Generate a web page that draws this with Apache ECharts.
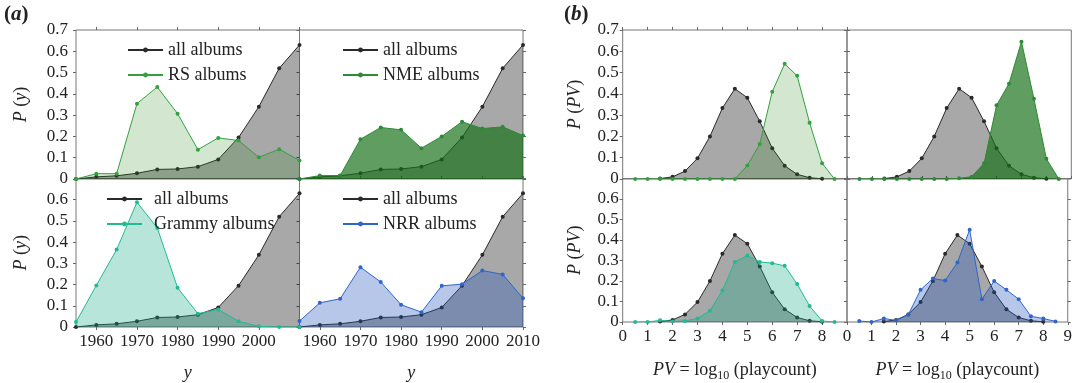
<!DOCTYPE html>
<html>
<head>
<meta charset="utf-8">
<script src="https://cdn.jsdelivr.net/npm/echarts@6/dist/echarts.min.js"></script>
<style>html,body{margin:0;padding:0;background:#fff;}#c{width:1075px;height:383px;}</style>
</head>
<body>
<div id="c"></div>
<script>
// ---- data ----
const years = [1955,1960,1965,1970,1975,1980,1985,1990,1995,2000,2005,2010];
const allAlbums = [0, 0.01, 0.015, 0.027, 0.045, 0.047, 0.058, 0.092, 0.195, 0.34, 0.52, 0.63];
const rsAlbums = [0, 0.025, 0.025, 0.354, 0.432, 0.307, 0.138, 0.193, 0.181, 0.102, 0.14, 0.087];
const nmeAlbums = [0, 0.016, 0.016, 0.187, 0.242, 0.231, 0.145, 0.2, 0.269, 0.237, 0.245, 0.204];
const grammyAlbums = [0.023, 0.196, 0.365, 0.588, 0.467, 0.185, 0.063, 0.083, 0.027, 0.003, 0, 0];
const nrrAlbums = [0.028, 0.114, 0.133, 0.282, 0.212, 0.105, 0.07, 0.194, 0.202, 0.266, 0.248, 0.135];

const pvBins = [0.5,1,1.5,2,2.5,3,3.5,4,4.5,5,5.5,6,6.5,7,7.5,8,8.5];
const allPV = [null, null, 0.002, 0.01, 0.037, 0.097, 0.2, 0.333, 0.424, 0.382, 0.271, 0.145, 0.062, 0.022, 0.006, 0.001, null];
const rsPV = [0,0,0,0,0,0,0,0,0,0.063,0.164,0.41,0.541,0.485,0.264,0.074,0];
const nmePV = [0,0,0,0,0,0,0,0,0.003,0.011,0.074,0.346,0.448,0.645,0.377,0.095,0];
const grammyPV = [0,0,0.008,0.003,0.005,0.017,0.055,0.154,0.293,0.324,0.293,0.287,0.274,0.185,0.078,0.005,0];
const nrrPV = [0.005,0,0.017,0.008,0.036,0.157,0.212,0.202,0.29,0.45,0.111,0.2,0.157,0.111,0.028,0.017,0.003];

const yearTicksLeft = [1960,1970,1980,1990,2000];
const yearTicksRight = [1960,1970,1980,1990,2000,2010];

// ---- styles ----
const FONT = 'Liberation Serif';
const styles = {
  all:    {line:'#2a2a2a', fill:'rgba(0,0,0,0.34)'},
  RS:     {line:'#35a040', fill:'rgba(30,130,20,0.2)'},
  NME:    {line:'#2e8a36', fill:'rgba(20,110,20,0.68)'},
  Grammy: {line:'#25b894', fill:'rgba(20,170,130,0.3)'},
  NRR:    {line:'#2f66c8', fill:'rgba(30,80,190,0.32)'}
};

const gx = {aL:76, aR:299.5, bL:622.7, bR:847};
const wA = 223.5, wB = 224.3;
const gy = {top:30, bot:178.5};
const h = 149;

const panels = [
  {kind:'a', left:gx.aL, top:gy.top, w:wA, col:0, row:0, other:'RS',  name:'RS albums',     oy:rsAlbums},
  {kind:'a', left:gx.aR, top:gy.top, w:wA, col:1, row:0, other:'NME', name:'NME albums',    oy:nmeAlbums},
  {kind:'a', left:gx.aL, top:gy.bot, w:wA, col:0, row:1, other:'Grammy', name:'Grammy albums', oy:grammyAlbums},
  {kind:'a', left:gx.aR, top:gy.bot, w:wA, col:1, row:1, other:'NRR', name:'NRR albums',    oy:nrrAlbums},
  {kind:'b', left:gx.bL, top:gy.top, w:wB, col:0, row:0, other:'RS',  name:'RS albums',     oy:rsPV},
  {kind:'b', left:gx.bR, top:gy.top, w:wB, col:1, row:0, other:'NME', name:'NME albums',    oy:nmePV},
  {kind:'b', left:gx.bL, top:gy.bot, w:wB, col:0, row:1, other:'Grammy', name:'Grammy albums', oy:grammyPV},
  {kind:'b', left:gx.bR, top:gy.bot, w:wB, col:1, row:1, other:'NRR', name:'NRR albums',    oy:nrrPV}
];

const grid = [], xAxis = [], yAxis = [], series = [];
const tickStyle = {show:true, inside:false, length:3, lineStyle:{color:'#666', width:1}};
const labelBase = {fontFamily:FONT, fontSize:17, color:'#222'};
const rich = {
  i:{fontStyle:'italic', fontFamily:FONT, fontSize:18, color:'#222'},
  n:{fontFamily:FONT, fontSize:18, color:'#222'},
  s:{fontFamily:FONT, fontSize:12, color:'#222', verticalAlign:'bottom', lineHeight:12},
  m:{fontFamily:FONT, fontSize:18, color:'#222', lineHeight:24}
};

panels.forEach((p, gi) => {
  grid.push({left:p.left, top:p.top, width:p.w, height:h, show:true, borderColor:'#777', borderWidth:1, backgroundColor:'transparent', containLabel:false});
  const isA = p.kind === 'a';
  const xmin = isA ? 1955 : 0, xmax = isA ? 2010 : 9;
  const xTickVals = isA ? (p.col === 0 ? yearTicksLeft : yearTicksRight) : null;
  const bottomLabels = p.row === 1;
  const xb = {
    type:'value', gridIndex:gi, position:'bottom', min:xmin, max:xmax,
    axisLine:{show:false}, splitLine:{show:false},
    axisTick: Object.assign({}, tickStyle, {show:bottomLabels}),
    axisLabel: Object.assign({show:bottomLabels, margin:6, formatter:(v)=>String(v)}, labelBase)
  };
  if (isA) {
    xb.axisTick.customValues = xTickVals;
    xb.axisLabel.customValues = xTickVals;
  } else {
    xb.interval = 1;
    xb.axisLabel.showMaxLabel = p.col === 1;
    xb.axisLabel.showMinLabel = true;
  }
  if (bottomLabels) {
    xb.name = isA ? '{i|y}' : '{m|}{i|PV} {n|=} {n|log}{s|10}{n| (playcount)}';
    xb.nameLocation = 'middle';
    xb.nameGap = isA ? 37 : 36;
    xb.nameTextStyle = {fontFamily:FONT, fontSize:18, color:'#222', rich:rich};
  }
  const mainX = xAxis.length;
  xAxis.push(xb);
  if (p.row === 0) {
    const xt = {type:'value', gridIndex:gi, position:'top', min:xmin, max:xmax,
      axisLine:{show:false}, splitLine:{show:false}, axisLabel:{show:false},
      axisTick:Object.assign({}, tickStyle)};
    if (isA) xt.axisTick.customValues = yearTicksRight; else xt.interval = 1;
    xAxis.push(xt);
  }
  const yl = {
    type:'value', gridIndex:gi, position:'left', min:0, max:0.7, interval:0.1,
    axisLine:{show:false}, splitLine:{show:false},
    axisTick:Object.assign({}, tickStyle),
    axisLabel:Object.assign({show:p.col===0, margin:isA?8:4, showMaxLabel:p.row===0,
      formatter:(v)=> (Math.round(v*10)/10===0 ? '0' : (Math.round(v*10)/10).toFixed(1))}, labelBase)
  };
  if (p.col === 0) {
    yl.name = isA ? '{i|P} {n|(}{i|y}{n|)}' : '{i|P} {n|(}{i|PV}{n|)}';
    yl.nameLocation = 'middle';
    yl.nameGap = isA ? 46 : 38;
    yl.nameRotate = 90;
    yl.nameTextStyle = {fontFamily:FONT, fontSize:18, color:'#222', rich:rich};
  }
  const mainY = yAxis.length;
  yAxis.push(yl);
  if (p.col === 1) {
    yAxis.push({type:'value', gridIndex:gi, position:'right', min:0, max:0.7, interval:0.1,
      axisLine:{show:false}, splitLine:{show:false}, axisLabel:{show:false},
      axisTick:Object.assign({}, tickStyle)});
  }
  const xs = isA ? years : pvBins;
  const mk = (vals) => xs.map((x, k) => [x, vals[k]]);
  const allVals = isA ? allAlbums : allPV;
  const st = styles[p.other];
  series.push({
    type:'line', name:'all albums', xAxisIndex:mainX, yAxisIndex:mainY, data:mk(allVals),
    symbol:'circle', symbolSize:4, showSymbol:true, connectNulls:false,
    lineStyle:{color:styles.all.line, width:1}, itemStyle:{color:styles.all.line},
    areaStyle:{color:styles.all.fill, opacity:1, origin:'start'}, z:2
  });
  series.push({
    type:'line', name:p.name, xAxisIndex:mainX, yAxisIndex:mainY, data:mk(p.oy),
    symbol:'circle', symbolSize:4, showSymbol:true,
    lineStyle:{color:st.line, width:1}, itemStyle:{color:st.line},
    areaStyle:{color:st.fill, opacity:1, origin:'start'}, z:3
  });
});

const legTxt = {fontFamily:FONT, fontSize:18, color:'#222', lineHeight:16};
const legend = [
  {left:127, top:41, data:['all albums','RS albums']},
  {left:342, top:41, data:['all albums','NME albums']},
  {left:106, top:190, data:['all albums','Grammy albums'], pad:true},
  {left:342, top:190, data:['all albums','NRR albums']}
].map(l => ({
  left:l.left, top:l.top, orient:'vertical', itemWidth:35, itemHeight:6, itemGap:7,
  data:l.data, selectedMode:false, padding:0,
  textStyle:Object.assign({}, legTxt, l.pad ? {padding:[0,0,0,7]} : {})
}));

const chart = echarts.init(document.getElementById('c'), null, {renderer:'canvas'});
chart.setOption({
  animation:false,
  backgroundColor:'#fff',
  title:[
    {text:'{n|(}{i|a}{n|)}', left:4, top:4, padding:0, textStyle:{rich:{n:{fontFamily:FONT,fontSize:21,color:'#222'}, i:{fontFamily:FONT,fontSize:21,fontStyle:'italic',color:'#222'}}}},
    {text:'{n|(}{i|b}{n|)}', left:564, top:4, padding:0, textStyle:{rich:{n:{fontFamily:FONT,fontSize:21,color:'#222'}, i:{fontFamily:FONT,fontSize:21,fontStyle:'italic',color:'#222'}}}}
  ],
  legend:legend,
  grid:grid, xAxis:xAxis, yAxis:yAxis, series:series
});
</script>
</body>
</html>
